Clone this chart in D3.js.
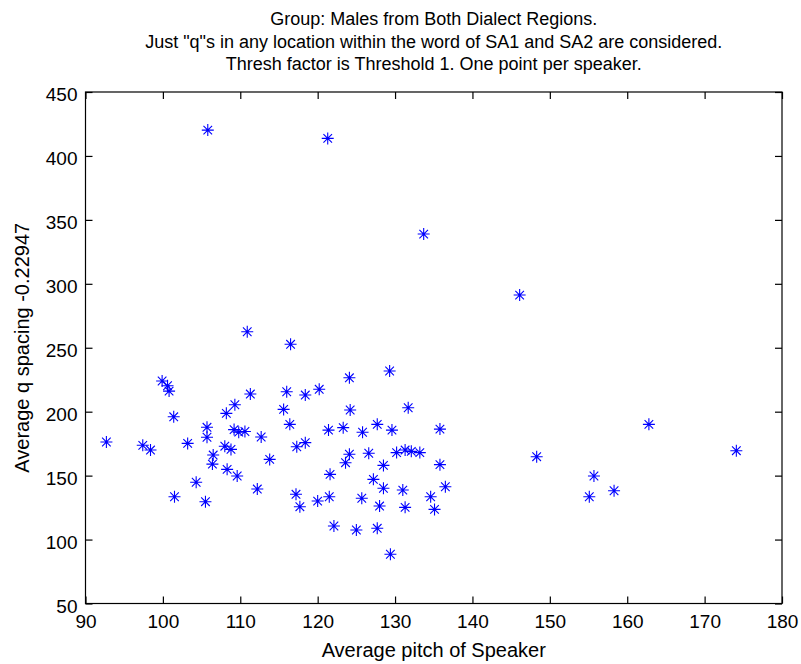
<!DOCTYPE html>
<html>
<head>
<meta charset="utf-8">
<script src="https://cdn.jsdelivr.net/npm/d3@7"></script>
<style>
  html, body { margin: 0; padding: 0; background: #fff; }
  svg text { font-family: "Liberation Sans", Arial, Helvetica, sans-serif; fill: #000; }
</style>
</head>
<body>
<svg id="chart" width="801" height="664"></svg>
<script>
const titleLines = [
  "Group: Males from Both Dialect Regions.",
  "Just \"q\"s in any location within the word of SA1 and SA2 are considered.",
  "Thresh factor is Threshold 1. One point per speaker."
];
const xLabel = "Average pitch of Speaker";
const yLabel = "Average q spacing -0.22947";
const xTicks = [90, 100, 110, 120, 130, 140, 150, 160, 170, 180];
const yTicks = [50, 100, 150, 200, 250, 300, 350, 400, 450];

const pitch = [
  105.8, 121.3, 133.7, 146.1, 110.9, 116.5, 129.3, 124.1, 99.9, 100.6,
  100.8, 111.3, 116.0, 118.4, 120.2, 109.3, 108.2, 101.4, 115.6, 124.2,
  131.7, 105.7, 105.7, 109.2, 109.8, 110.6, 112.7, 116.4, 121.4, 123.3,
  125.8, 127.7, 129.6, 135.8, 162.8, 92.7, 97.4, 98.4, 103.2, 108.0,
  108.8, 106.5, 106.4, 113.8, 117.3, 118.4, 124.1, 123.6, 126.6, 128.5,
  130.2, 131.3, 132.1, 133.2, 135.8, 148.3, 174.1, 108.3, 109.6, 104.3,
  112.2, 101.5, 105.5, 121.6, 127.2, 128.5, 131.0, 136.5, 134.6, 135.1,
  131.3, 128.0, 125.7, 121.5, 120.0, 117.2, 117.7, 122.1, 125.0, 127.7,
  129.4, 155.7, 155.1, 158.3
];
const spacing = [
  420.2, 413.7, 338.9, 291.2, 262.5, 252.7, 231.8, 226.5, 224.0, 220.3,
  216.1, 213.8, 215.6, 213.0, 217.5, 205.4, 198.7, 196.0, 201.8, 201.3,
  203.1, 187.8, 180.0, 186.0, 184.0, 184.5, 180.2, 190.1, 185.6, 187.5,
  183.9, 190.1, 185.6, 186.4, 190.1, 176.3, 173.7, 170.0, 175.2, 173.0,
  170.5, 166.1, 159.0, 162.7, 172.6, 175.8, 166.7, 160.1, 167.5, 158.0,
  168.0, 170.0, 169.0, 168.0, 158.6, 164.8, 169.5, 154.9, 149.7, 144.8,
  139.5, 133.5, 129.6, 151.0, 147.1, 140.1, 138.7, 141.3, 133.5, 123.6,
  125.2, 126.2, 132.3, 133.5, 130.1, 135.4, 125.7, 110.6, 107.5, 108.8,
  88.5, 149.7, 133.5, 138.2
];

const svg = d3.select("#chart");
const L = 85.5, R = 782, T = 92, B = 603.5;
const x = d3.scaleLinear().domain([90, 180]).range([L, R]);
const y = d3.scaleLinear().domain([50, 450]).range([B, T]);
const fsTitle = 18, fsTick = 19, fsLabel = 20;
const tickLen = 7;

// box
svg.append("rect").attr("x", L).attr("y", T).attr("width", R - L).attr("height", B - T)
  .attr("fill", "none").attr("stroke", "#000").attr("stroke-width", 1.2);

// axes (ticks inward)
const gx = svg.append("g").attr("transform", `translate(0,${B})`)
  .call(d3.axisBottom(x).tickValues(xTicks).tickSize(-tickLen).tickPadding(11).tickFormat(d3.format("d")));
const gxTop = svg.append("g").attr("transform", `translate(0,${T})`)
  .call(d3.axisTop(x).tickValues(xTicks).tickSize(-tickLen).tickFormat(""));
const gy = svg.append("g").attr("transform", `translate(${L},0)`)
  .call(d3.axisLeft(y).tickValues(yTicks).tickSize(-tickLen).tickPadding(8).tickFormat(d3.format("d")));
const gyR = svg.append("g").attr("transform", `translate(${R},0)`)
  .call(d3.axisRight(y).tickValues(yTicks).tickSize(-tickLen).tickFormat(""));
[gx, gxTop, gy, gyR].forEach(g => {
  g.select(".domain").remove();
  g.selectAll("line").attr("stroke", "#000").attr("stroke-width", 1.2);
  g.selectAll("text").style("font-size", fsTick + "px").attr("fill", "#000")
    .style("font-family", "'Liberation Sans', Arial, sans-serif");
});
gy.selectAll("text").attr("dy", "0.46em");

// markers (MATLAB-style asterisk)
const s = 6, d = 4.3;
const star = `M${-s},0H${s}M0,${-s}V${s}M${-d},${-d}L${d},${d}M${-d},${d}L${d},${-d}`;
svg.append("g").selectAll("path").data(pitch.map((p, i) => [p, spacing[i]])).join("path")
  .attr("d", star)
  .attr("transform", v => `translate(${x(v[0])},${y(v[1])})`)
  .attr("stroke", "#0000ff").attr("stroke-width", 1.1).attr("fill", "none");

// title
const cx = (L + R) / 2;
svg.append("g").selectAll("text").data(titleLines).join("text")
  .attr("x", cx).attr("y", (dd, i) => 25 + i * 22.5)
  .attr("text-anchor", "middle").style("font-size", fsTitle + "px").text(dd => dd);

// axis labels
svg.append("text").attr("x", cx).attr("y", 657).attr("text-anchor", "middle")
  .style("font-size", fsLabel + "px").text(xLabel);
svg.append("text").attr("transform", `translate(29,${(T + B) / 2}) rotate(-90)`)
  .attr("text-anchor", "middle").style("font-size", fsLabel + "px").text(yLabel);
</script>
</body>
</html>
